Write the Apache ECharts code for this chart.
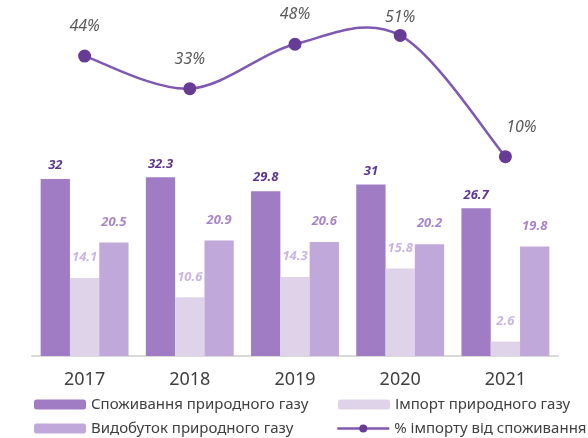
<!DOCTYPE html>
<html>
<head>
<meta charset="utf-8">
<script src="https://cdn.jsdelivr.net/npm/echarts@6/dist/echarts.min.js"></script>
<style>
  html, body { margin: 0; padding: 0; background: #fff; }
  #chart { width: 588px; height: 438px; }
</style>
</head>
<body>
<div id="chart"></div>
<script>
const years = ['2017', '2018', '2019', '2020', '2021']
const consumption = [32, 32.3, 29.8, 31, 26.7]
const importGas = [14.1, 10.6, 14.3, 15.8, 2.6]
const production = [20.5, 20.9, 20.6, 20.2, 19.8]
const importShare = [44, 33, 48, 51, 10]

const names = [
  'Споживання природного газу',
  'Імпорт природного газу',
  'Видобуток природного газу',
  '% імпорту від споживання'
]

const font = 'Noto Sans'
const lineColor = '#7f59b1'

const barLabel = (color, distance) => ({
  show: true,
  position: 'top',
  distance: distance,
  color: color,
  fontFamily: font,
  fontSize: 13,
  fontWeight: 'bold',
  fontStyle: 'italic'
})

const legendItem = (name, left, top) => ({
  data: [name],
  left: left,
  top: top,
  itemWidth: 52,
  itemHeight: 10,
  itemGap: 0,
  textStyle: { color: '#404040', fontFamily: font, fontSize: 15 }
})

// smooth curve (catmull-rom like), one segment per point
function renderCurve(params, api) {
  const i = params.dataIndex
  const n = importShare.length
  if (i >= n - 1) return null
  const pt = k => api.coord([k, importShare[Math.max(0, Math.min(n - 1, k))]])
  const p0 = pt(Math.max(0, i - 1))
  const p1 = pt(i)
  const p2 = pt(i + 1)
  const p3 = pt(Math.min(n - 1, i + 2))
  const t = 1 / 6
  return {
    type: 'bezierCurve',
    shape: {
      x1: p1[0], y1: p1[1],
      x2: p2[0], y2: p2[1],
      cpx1: p1[0] + (p2[0] - p0[0]) * t,
      cpy1: p1[1] + (p2[1] - p0[1]) * t,
      cpx2: p2[0] - (p3[0] - p1[0]) * t,
      cpy2: p2[1] - (p3[1] - p1[1]) * t
    },
    style: { stroke: lineColor, lineWidth: 2.5, fill: 'none' }
  }
}

const chart = echarts.init(document.getElementById('chart'))
chart.setOption({
  animation: false,
  grid: { left: 32, right: 30, top: 7, bottom: 82 },
  legend: [
    legendItem(names[0], 29, 392),
    legendItem(names[1], 333, 392),
    legendItem(names[2], 29, 416),
    Object.assign(legendItem(names[3], 331, 416), {
      lineStyle: { color: lineColor, width: 2.5, opacity: 1 }
    })
  ],
  xAxis: {
    type: 'category',
    data: years,
    axisTick: { show: false },
    axisLine: { lineStyle: { color: '#d9d9d9', width: 2 } },
    axisLabel: { color: '#404040', fontFamily: font, fontSize: 18, margin: 15 }
  },
  yAxis: [
    { type: 'value', min: 0, max: 63.1, show: false, splitLine: { show: false } },
    { type: 'value', min: -57.4, max: 60.6, show: false, splitLine: { show: false } }
  ],
  series: [
    {
      name: names[0],
      type: 'bar',
      barWidth: 29.3,
      barGap: '0%',
      itemStyle: { color: '#a07cc5' },
      label: barLabel('#5e3590', 7),
      data: consumption
    },
    {
      name: names[1],
      type: 'bar',
      barWidth: 29.3,
      barGap: '0%',
      itemStyle: { color: '#dfd3ea' },
      label: barLabel('#c9b5e0', 14),
      data: importGas
    },
    {
      name: names[2],
      type: 'bar',
      barWidth: 29.3,
      barGap: '0%',
      itemStyle: { color: '#c1a8da' },
      label: barLabel('#a884cc', 14),
      data: production
    },
    {
      name: names[3],
      type: 'line',
      yAxisIndex: 1,
      symbol: 'circle',
      symbolSize: 13,
      z: 6,
      lineStyle: { color: lineColor, width: 2.5, opacity: 0 },
      itemStyle: { color: '#663c94' },
      label: {
        show: true,
        position: 'top',
        distance: 15,
        color: '#595959',
        fontFamily: font,
        fontSize: 16,
        fontStyle: 'italic',
        formatter: '{c}%'
      },
      data: importShare.map((v, i) => {
        if (i === 3) return { value: v, label: { distance: 3 } }
        if (i === 4) return { value: v, label: { offset: [16, 0] } }
        return v
      })
    },
    {
      name: names[3],
      type: 'custom',
      yAxisIndex: 1,
      z: 5,
      renderItem: renderCurve,
      data: importShare.map((v, i) => [i, v])
    }
  ]
})
</script>
</body>
</html>
